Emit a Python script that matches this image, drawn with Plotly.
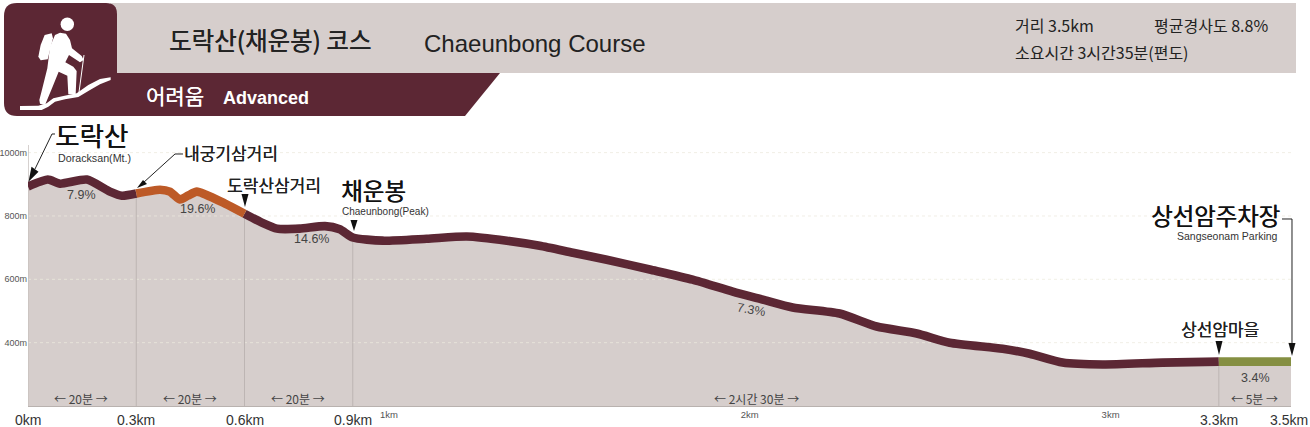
import plotly.graph_objects as go

# ---- data -------------------------------------------------------------
seg1_km = [0, 0.055, 0.089, 0.163, 0.227, 0.26, 0.3]
seg1_m = [893, 915, 902, 915, 877, 864, 871]
seg2_km = [0.3, 0.366, 0.393, 0.421, 0.443, 0.468, 0.546, 0.6]
seg2_m = [871, 883, 877, 852, 864, 877, 839, 807]
seg3_km = [0.6, 0.648, 0.69, 0.753, 0.823, 0.864, 0.9, 0.983, 1.105, 1.216, 1.327, 1.418, 1.51, 1.604,
           1.723, 1.842, 1.953, 2.036, 2.119, 2.249, 2.352, 2.463, 2.554, 2.701, 2.776, 2.867, 2.978, 3.144, 3.3]
seg3_m = [807, 779, 760, 760, 768, 758, 732, 722, 728, 735, 722, 706, 684, 662,
          631, 599, 561, 536, 511, 492, 451, 429, 400, 381, 365, 337, 331, 337, 340]
seg4_km = [3.3, 3.5]
seg4_m = [340, 340]

elev_ticks = [400, 600, 800, 1000]
elev_labels = ["400m", "600m", "800m", "1000m"]
km_ticks = [1, 2, 3]
km_tick_labels = ["1km", "2km", "3km"]
station_km = [0, 0.3, 0.6, 0.9, 3.3, 3.5]
station_labels = ["0km", "0.3km", "0.6km", "0.9km", "3.3km", "3.5km"]
divider_km = [0.3, 0.6, 0.9, 3.3]
divider_m = [871, 807, 732, 340]
duration_km = [0.146, 0.448, 0.747, 2.02, 3.4]
duration_labels = ["← 20분 →", "← 20분 →", "← 20분 →", "← 2시간 30분 →", "← 5분 →"]
grade_labels = ["7.9%", "19.6%", "14.6%", "7.3%", "3.4%"]

MAROON = "#5c2734"
ORANGE = "#bd5a27"
GREEN = "#858f42"
FILL = "#d6cecc"
KR = "Noto Sans CJK KR"
LAT = "Liberation Sans"
W, H = 1310, 427
L, R, T, B = 28, 19, 120, 21
PW, PH = W - L - R, H - T - B


def px(x):
    return (x - L) / PW


def py(y):
    return (H - B - y) / PH


def poly(points, close=True):
    d = "M " + " L ".join(f"{px(x):.5f},{py(y):.5f}" for x, y in points)
    return d + (" Z" if close else "")


def rounded(x0, y0, x1, y1, rs):
    tl, tr, br, bl = rs
    P = lambda x, y: f"{px(x):.5f},{py(y):.5f}"
    return (f"M {P(x0 + tl, y0)} L {P(x1 - tr, y0)} Q {P(x1, y0)} {P(x1, y0 + tr)} "
            f"L {P(x1, y1 - br)} Q {P(x1, y1)} {P(x1 - br, y1)} L {P(x0 + bl, y1)} "
            f"Q {P(x0, y1)} {P(x0, y1 - bl)} L {P(x0, y0 + tl)} Q {P(x0, y0)} {P(x0 + tl, y0)} Z")


fig = go.Figure()
all_km = seg1_km + seg2_km[1:] + seg3_km[1:] + seg4_km[1:]
all_m = seg1_m + seg2_m[1:] + seg3_m[1:] + seg4_m[1:]
fig.add_trace(go.Scatter(x=all_km, y=all_m, mode="lines", line=dict(color=FILL, width=0, shape="spline", smoothing=0.6),
                         fill="tozeroy", fillcolor=FILL, hoverinfo="skip", showlegend=False))
for v in elev_ticks:
    fig.add_trace(go.Scatter(x=[0, 3.5], y=[v, v], mode="lines", hoverinfo="skip", showlegend=False,
                             line=dict(color="rgba(236,233,222,0.75)", width=1, dash="dot")))
for k, m in zip(divider_km, divider_m):
    fig.add_trace(go.Scatter(x=[k, k], y=[200, m], mode="lines", hoverinfo="skip", showlegend=False,
                             line=dict(color="#bdb5b3", width=1)))
fig.add_trace(go.Scatter(x=[0, 0], y=[200, 1024], mode="lines", hoverinfo="skip", showlegend=False,
                         line=dict(color="#c9c2bf", width=1.5)))
for xs, ys, c in [(seg1_km, seg1_m, MAROON), (seg3_km, seg3_m, MAROON), (seg2_km, seg2_m, ORANGE), (seg4_km, seg4_m, GREEN)]:
    fig.add_trace(go.Scatter(x=xs, y=ys, mode="lines", hoverinfo="skip", showlegend=False,
                             line=dict(color=c, width=8.6, shape="spline", smoothing=0.6)))

shapes = []


def solid(path, color):
    shapes.append(dict(type="path", xref="paper", yref="paper", path=path, fillcolor=color,
                       line=dict(width=0), layer="above"))


def stroke(points, color="#222222", width=1):
    shapes.append(dict(type="path", xref="paper", yref="paper", path=poly(points, close=False),
                       fillcolor="rgba(0,0,0,0)", line=dict(color=color, width=width), layer="above"))


# header bands
solid(poly([(110, 3), (1296, 3), (1296, 73), (110, 73)]), FILL)
solid(poly([(100, 73), (500, 73), (465, 116), (100, 116)]), MAROON)
solid(rounded(4, 3, 117, 116, (13, 11, 0, 13)), MAROON)
solid(poly([(110, 100), (130, 100), (130, 116), (110, 116)]), MAROON)


# hiker icon (zoom coordinates offset 10,5 at 3x)
def Z(pts):
    return [(10 + a / 3, 5 + b / 3) for a, b in pts]


WHITE = "#ffffff"
solid(poly(Z([(104, 90), (125, 85), (129, 100), (113, 163), (92, 166), (85, 155), (92, 120)])), WHITE)
solid(poly(Z([(135, 90), (150, 83), (168, 86), (180, 105), (186, 130), (215, 153), (221, 165), (210, 172),
              (177, 150), (166, 172), (190, 185), (200, 198), (197, 268), (175, 268), (172, 212), (146, 200),
              (126, 250), (105, 300), (90, 296), (88, 285), (95, 258), (112, 190), (120, 125)])), WHITE)
solid(poly(Z([(30, 303), (85, 302), (110, 295), (130, 280), (160, 273), (200, 265), (235, 240), (270, 222),
              (302, 217), (302, 225), (270, 238), (240, 255), (205, 276), (165, 283), (135, 290), (115, 305),
              (95, 315), (30, 315)])), WHITE)
stroke(Z([(222, 150), (207, 262)]), WHITE, 1)
shapes.append(dict(type="circle", xref="paper", yref="paper", x0=px(60.6), x1=px(74), y0=py(31), y1=py(17.6),
                   fillcolor=WHITE, line=dict(width=0), layer="above"))

# leaders and pointers
stroke([(55, 134), (52, 134), (35, 169)])
solid(poly([(28.5, 181.7), (31.5, 166.7), (38.5, 171.7)]), "#111111")
stroke([(183, 154), (175, 154), (143, 183)])
solid(poly([(137, 188), (143, 180), (147, 184)]), "#111111")
stroke([(1282, 219), (1292, 219), (1292, 345)])
for x, top, tip in [(245, 194, 207), (354, 220, 231), (1219, 341, 355), (1292, 343, 356)]:
    solid(poly([(x - 3.5, top), (x + 3.5, top), (x, tip)]), "#111111")

anns = []


def text(x, y, s, size, color="#222222", anchor="left", family=KR, angle=0, weight=None, heavy=0.0):
    f = dict(family=family, size=size, color=color)
    if weight:
        f["weight"] = weight
    if heavy:
        f["shadow"] = f"{heavy}px 0 0 {color}"
    anns.append(dict(xref="paper", yref="paper", x=px(x), y=py(y), text=s, showarrow=False, xanchor=anchor,
                     yanchor="middle", font=f, textangle=angle, borderpad=0))


text(168, 40, "도락산(채운봉) 코스", 24.5, heavy=0.3)
text(423, 43, "Chaeunbong Course", 24, family=LAT)
text(145, 95, "어려움", 21, "#ffffff", heavy=0.3)
text(222, 98, "Advanced", 18, "#ffffff", family=LAT, weight=700)
text(1014, 25, "거리 3.5km", 16)
text(1153, 25, "평균경사도 8.8%", 16)
text(1014, 52, "소요시간 3시간35분(편도)", 16)

text(54, 135, "도락산", 26.5, "#111111", heavy=0.4)
text(57, 158, "Doracksan(Mt.)", 10.7, "#333333", family=LAT)
text(183, 152, "내궁기삼거리", 17, heavy=0.2)
text(226, 184, "도락산삼거리", 17, heavy=0.2)
text(340, 190, "채운봉", 23.5, "#111111", heavy=0.4)
text(341, 211, "Chaeunbong(Peak)", 10, "#333333", family=LAT)
text(1281, 215, "상선암주차장", 23.4, "#111111", anchor="right", heavy=0.4)
text(1279, 236, "Sangseonam Parking", 10.5, "#333333", anchor="right", family=LAT)
text(1220, 328, "상선암마을", 17, anchor="center", heavy=0.2)

grade_pos = [(81, 195, 0), (197, 209, 0), (311, 239, 0), (752, 310, 10), (1255, 378, 0)]
for s, (x, y, a) in zip(grade_labels, grade_pos):
    text(x, y, s, 12.5, "#444444", anchor="center", family=LAT, angle=a)
for k, s in zip(duration_km, duration_labels):
    text(L + k * PW / 3.5, 398, s, 12, "#444444", anchor="center")
for k, s in zip(station_km[:-1], station_labels[:-1]):
    text(L + k * PW / 3.5, 419.5, s, 14, "#333333", anchor="center", family=LAT)
text(1309, 419.5, station_labels[-1], 14, "#333333", anchor="right", family=LAT)

fig.update_layout(
    width=W, height=H, autosize=False, margin=dict(l=L, r=R, t=T, b=B, pad=0, autoexpand=False),
    paper_bgcolor="white", plot_bgcolor="white", showlegend=False, shapes=shapes, annotations=anns,
    xaxis=dict(range=[0, 3.5], automargin=False, showgrid=False, zeroline=False, showline=True, linecolor="#b9b2af", linewidth=1,
               tickvals=km_ticks, ticktext=km_tick_labels, ticks="", tickfont=dict(family=LAT, size=9.5, color="#555555"),
               fixedrange=True),
    yaxis=dict(range=[200, 1103], automargin=False, showgrid=False, zeroline=False, showline=False,
               tickvals=elev_ticks, ticktext=elev_labels, ticks="", tickfont=dict(family=LAT, size=9, color="#555555"),
               fixedrange=True),
)
fig.write_html("out.html", config=dict(displayModeBar=False),
               post_script="document.body.style.margin='0';")
